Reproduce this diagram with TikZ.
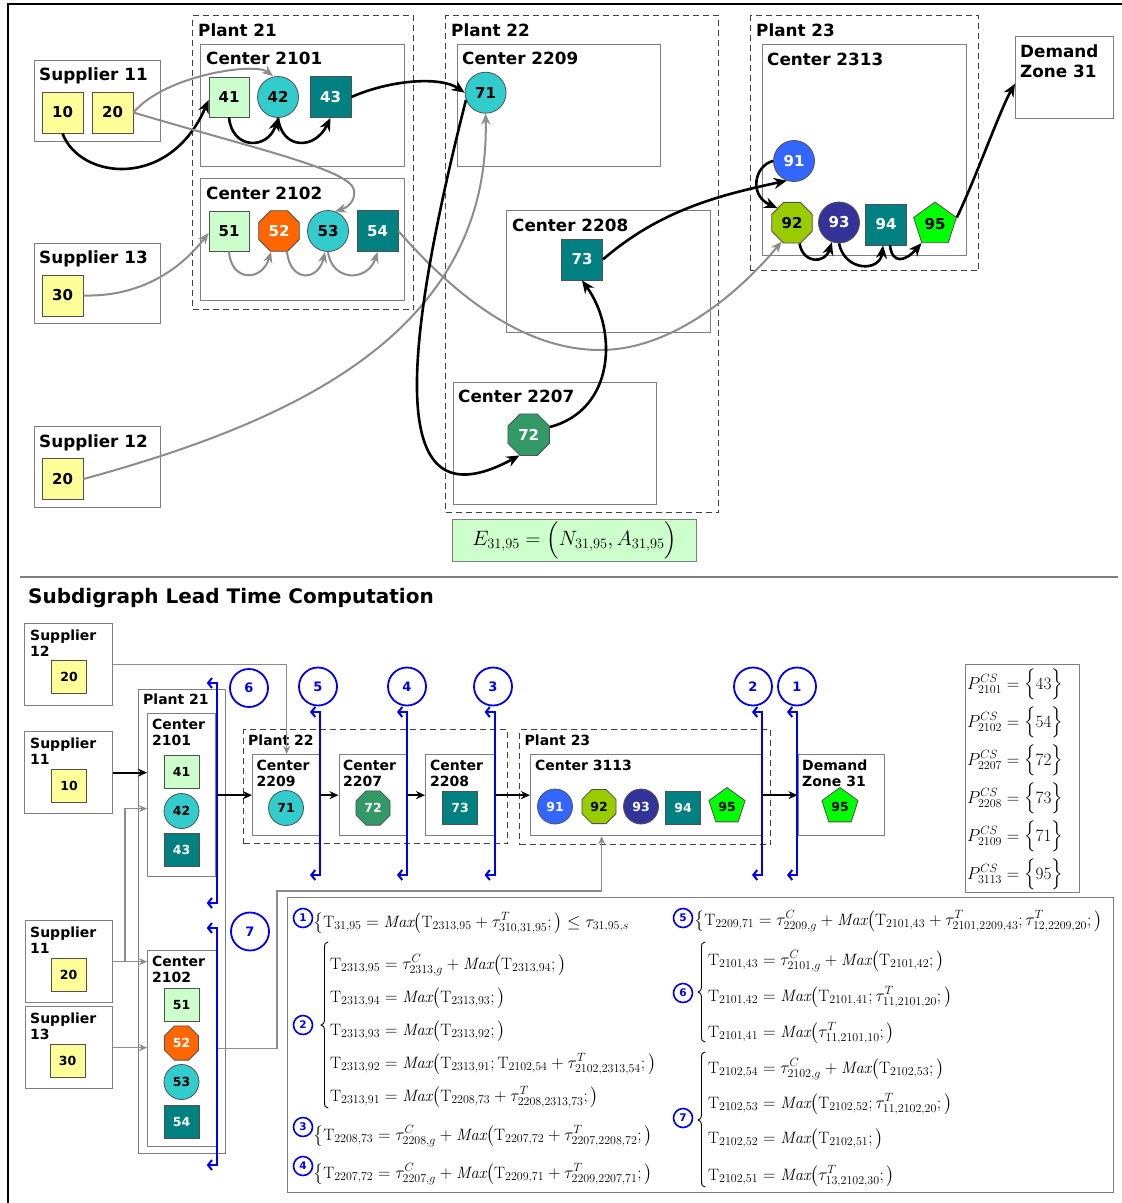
\documentclass[tikz,border=0pt]{standalone}
\usepackage{fontspec}
\usepackage{amsmath}
\usetikzlibrary{shapes.geometric,arrows.meta}
\newfontfamily\dvs{DejaVu Sans}
\newcommand{\LTt}{\mathrm{T}}
\newcommand{\LTmax}{\mathit{Max}}
% left curly brace drawn as a path: x, top y, middle y, bottom y
\newcommand{\LTbrace}[4]{%
  \draw[line width=0.9pt, line cap=round, line join=round]
    (#1+7,#2) .. controls (#1+4,#2) and (#1+3.5,#2+2) .. (#1+3.5,#2+7)
    -- (#1+3.5,#3-6) .. controls (#1+3.5,#3-2) and (#1+2,#3) .. (#1,#3)
    .. controls (#1+2,#3) and (#1+3.5,#3+2) .. (#1+3.5,#3+6)
    -- (#1+3.5,#4-7) .. controls (#1+3.5,#4-2) and (#1+4,#4) .. (#1+7,#4);}

\definecolor{boxgray}{HTML}{7F7F7F}
\definecolor{nodeline}{HTML}{505050}
\definecolor{supyellow}{HTML}{FFFF99}
\definecolor{palegreen}{HTML}{CCFFCC}
\definecolor{turq}{HTML}{33CCCC}
\definecolor{darkteal}{HTML}{008080}
\definecolor{orangeoct}{HTML}{FF6600}
\definecolor{seagreen}{HTML}{339966}
\definecolor{brightblue}{HTML}{3366FF}
\definecolor{olivegreen}{HTML}{99CC00}
\definecolor{navyblue}{HTML}{333399}
\definecolor{limegreen}{HTML}{00FF00}
\definecolor{linkgray}{HTML}{8C8C8C}
\definecolor{cutblue}{HTML}{0000EE}

\tikzset{
  topfont/.style={font=\dvs\bfseries\fontsize{16.8}{19}\selectfont},
  botfont/.style={font=\dvs\bfseries\fontsize{14}{16}\selectfont},
  tlbl/.style={anchor=base west, inner sep=0pt, topfont},
  blbl/.style={anchor=base west, inner sep=0pt, botfont},
  cont/.style={draw=boxgray, line width=1.3pt, anchor=north west, inner sep=0pt},
  plant/.style={draw=black!75, line width=1pt, dash pattern=on 6pt off 4pt, anchor=north west, inner sep=0pt},
  item/.style={draw=nodeline, line width=0.8pt, inner sep=0pt, text=black},
  topnum/.style={font=\dvs\bfseries\fontsize{15}{15}\selectfont},
  botnum/.style={font=\dvs\bfseries\fontsize{12.5}{12.5}\selectfont},
  sqn/.style={item, rectangle, minimum width=#1, minimum height=#1},
  bsq/.style={item, rectangle, minimum width=35pt, minimum height=33pt, botnum},
  cin/.style={item, circle, minimum size=#1},
  octn/.style={item, regular polygon, regular polygon sides=8, minimum size=#1},
  pentn/.style={item, regular polygon, regular polygon sides=5, minimum size=#1},
  fy/.style={fill=supyellow},
  fa/.style={fill=palegreen},
  fb/.style={fill=turq},
  fc/.style={fill=darkteal, text=white},
  f52/.style={fill=orangeoct, text=white},
  f72/.style={fill=seagreen, text=white},
  f91/.style={fill=brightblue, text=white},
  f92/.style={fill=olivegreen},
  f93/.style={fill=navyblue, text=white},
  f95/.style={fill=limegreen},
  blk/.style={draw=black, line width=2.6pt, -{Stealth[length=13pt,width=11pt]}},
  gry/.style={draw=linkgray, line width=2pt, -{Stealth[length=11pt,width=9pt]}},
  bblk/.style={draw=black, line width=2pt, -{Stealth[length=9pt,width=8pt]}},
  bgry/.style={draw=linkgray, line width=1.6pt, -{Stealth[length=8pt,width=7pt]}},
  cut/.style={draw=cutblue, line width=2pt, {Straight Barb[length=4pt,width=10pt]}-{Straight Barb[length=4pt,width=10pt]}},
  cutnum/.style={draw=cutblue, line width=1.8pt, circle, minimum size=38pt, inner sep=0pt, text=cutblue, font=\dvs\bfseries\fontsize{13}{13}\selectfont},
  eqnum/.style={draw=cutblue, line width=1.6pt, circle, minimum size=19pt, inner sep=0pt, text=cutblue, font=\dvs\bfseries\fontsize{10.5}{10.5}\selectfont},
  eqline/.style={anchor=base west, inner sep=0pt, font=\fontsize{16.5}{19}\selectfont},
  pline/.style={anchor=base west, inner sep=0pt, font=\fontsize{18.5}{22}\selectfont},
}

\begin{document}
\begin{tikzpicture}[x=1pt, y=-1pt]
\useasboundingbox (0,0) rectangle (1122,1203);
\fill[white] (0,0) rectangle (1122,1203);

% outer frame
\draw[line width=2.5pt] (8,1203) -- (8,4) -- (1122,4);

% ================= network digraph =================
% suppliers
\node[cont, minimum width=126pt, minimum height=81pt] (sup11) at (34,60) {};
\node[tlbl] (sup11t) at (39,80) {Supplier 11};
\node[sqn=41pt, fy, topnum] (a10) at (62.5,112.5) {10};
\node[sqn=41pt, fy, topnum] (a20) at (112.5,112.5) {20};

\node[cont, minimum width=126pt, minimum height=80pt] (sup13) at (34,243) {};
\node[tlbl] (sup13t) at (39,263) {Supplier 13};
\node[sqn=41pt, fy, topnum] (a30) at (62.5,295.5) {30};

\node[cont, minimum width=126pt, minimum height=81pt] (sup12) at (34,426) {};
\node[tlbl] (sup12t) at (39,447) {Supplier 12};
\node[sqn=41pt, fy, topnum] (b20) at (62.5,479) {20};

% plant 21
\node[plant, minimum width=221pt, minimum height=294pt] (p21) at (192,15) {};
\node[tlbl] (p21t) at (198,36) {Plant 21};
\node[cont, minimum width=204pt, minimum height=122pt] (c2101) at (200,44) {};
\node[tlbl] (c2101t) at (206,64) {Center 2101};
\node[sqn=40pt, fa, topnum] (n41) at (229,97) {41};
\node[cin=41pt, fb, topnum] (n42) at (278,97) {42};
\node[sqn=41pt, fc, topnum] (n43) at (330.5,97) {43};
\node[cont, minimum width=204pt, minimum height=122pt] (c2102) at (200,178) {};
\node[tlbl] (c2102t) at (206,199) {Center 2102};
\node[sqn=40pt, fa, topnum] (n51) at (229,231) {51};
\node[octn=44pt, f52, topnum] (n52) at (279,231) {52};
\node[cin=41pt, fb, topnum] (n53) at (328,231) {53};
\node[sqn=41pt, fc, topnum] (n54) at (377.5,231) {54};

% plant 22
\node[plant, minimum width=273pt, minimum height=497pt] (p22) at (445,15) {};
\node[tlbl] (p22t) at (451,36) {Plant 22};
\node[cont, minimum width=203pt, minimum height=122pt] (c2209) at (457,44) {};
\node[tlbl] (c2209t) at (462,64) {Center 2209};
\node[cin=41pt, fb, topnum] (n71) at (485.6,92.7) {71};
\node[cont, minimum width=204pt, minimum height=122pt] (c2208) at (506,210) {};
\node[tlbl] (c2208t) at (512,231) {Center 2208};
\node[sqn=41pt, fc, topnum] (n73) at (582,259.5) {73};
\node[cont, minimum width=203pt, minimum height=122pt] (c2207) at (453,382) {};
\node[tlbl] (c2207t) at (458,402) {Center 2207};
\node[octn=45pt, f72, topnum] (n72) at (528.7,434.7) {72};

% plant 23
\node[plant, minimum width=228pt, minimum height=255pt] (p23) at (750,15) {};
\node[tlbl] (p23t) at (756,36) {Plant 23};
\node[cont, minimum width=204pt, minimum height=211pt] (c2313) at (762,44) {};
\node[tlbl] (c2313t) at (767,65) {Center 2313};
\node[cin=41pt, f91, topnum] (n91) at (794,161) {91};
\node[octn=44pt, f92, topnum] (n92) at (792,222.7) {92};
\node[cin=41pt, f93, topnum] (n93) at (839,222.5) {93};
\node[sqn=41pt, fc, topnum] (n94) at (886,224.5) {94};
\node[pentn=45pt, f95, topnum] (n95) at (935,224.5) {95};

% demand zone
\node[cont, minimum width=98pt, minimum height=82pt] (dz) at (1015,36) {};
\node[tlbl] (dzt1) at (1020,57) {Demand};
\node[tlbl] (dzt2) at (1020,77) {Zone 31};

% subdigraph tuple
\node[cont, fill=palegreen, minimum width=244pt, minimum height=42pt, font=\fontsize{20}{28}\selectfont] (etuple) at (452,519)
  {$E_{31,95}=\Bigl(N_{31,95},A_{31,95}\Bigr)$};

% arcs inside and between centers
\draw[blk] (a10.south) .. controls (80,180) and (170,190) .. ([yshift=-3pt]n41.west);
\draw[gry] (a20.east) .. controls (165,75) and (255,62) .. ([xshift=-5pt]n42.north);
\draw[gry] (a20.east) .. controls (260,150) and (350,170) .. (354,190) .. controls (356,202) and (346,208) .. (n53.70);
\draw[blk] (n41.south) .. controls (232,150) and (268,150) .. (n42.south);
\draw[blk] (n42.south) .. controls (282,150) and (315,150) .. (n43.south);
\draw[blk] (n43.east) .. controls (390,80) and (440,76) .. (n71.west);
\draw[gry] (n51.south) .. controls (231,282) and (262,282) .. ([xshift=-8pt]n52.south);
\draw[gry] ([xshift=8pt]n52.south) .. controls (290,282) and (318,282) .. ([xshift=-3pt]n53.south);
\draw[gry] (n53.south) .. controls (332,282) and (368,282) .. (n54.south);
\draw[gry] (a30.east) .. controls (140,297) and (180,270) .. ([yshift=-2pt]n51.west);
\draw[gry] (n54.east) .. controls (450,290) and (520,350) .. (600,350) .. controls (680,350) and (750,280) .. (n92.241);
\draw[gry] (b20.east) .. controls (300,420) and (490,330) .. (n71.south);
\draw[blk] (n71.200) .. controls (390,400) and (400,520) .. (n72.246);
\draw[blk] (n72.20) .. controls (615,410) and (618,330) .. (n73.south);
\draw[blk] (n73.east) .. controls (660,210) and (720,195) .. (n91.250);
\draw[blk] (n91.west) .. controls (755,165) and (748,195) .. (n92.135);
\draw[blk] (n92.290) .. controls (803,264) and (825,264) .. (n93.250);
\draw[blk] (n93.south) .. controls (845,272) and (880,272) .. ([xshift=-3pt]n94.south);
\draw[blk] ([xshift=4pt]n94.south) .. controls (892,264) and (905,262) .. (n95.234);
\draw[blk] (n95.18) .. controls (975,180) and (1000,110) .. ([yshift=-6pt]dz.west);

% separator
\draw[draw=boxgray, line width=1.5pt] (20,577) -- (1118,577);

% ================= lead time computation =================
\node[anchor=base west, inner sep=0pt, font=\dvs\bfseries\fontsize{20}{22}\selectfont] (title) at (28,603) {Subdigraph Lead Time Computation};

% suppliers
\node[cont, minimum width=88pt, minimum height=82pt] (s12) at (24,623) {};
\node[blbl] (s12t1) at (30,640) {Supplier};
\node[blbl] (s12t2) at (30,656) {12};
\node[bsq, fy] (s12n) at (69,677) {20};

\node[cont, minimum width=88pt, minimum height=82pt] (s11a) at (24,731) {};
\node[blbl] (s11at1) at (30,748) {Supplier};
\node[blbl] (s11at2) at (30,764) {11};
\node[bsq, fy] (s11an) at (69,786) {10};

\node[cont, minimum width=87pt, minimum height=82pt] (s11b) at (25,920) {};
\node[blbl] (s11bt1) at (30,937) {Supplier};
\node[blbl] (s11bt2) at (30,953) {11};
\node[bsq, fy] (s11bn) at (68.5,975) {20};

\node[cont, minimum width=87pt, minimum height=82pt] (s13) at (25,1006) {};
\node[blbl] (s13t1) at (30,1023) {Supplier};
\node[blbl] (s13t2) at (30,1039) {13};
\node[bsq, fy] (s13n) at (67.5,1061) {30};

% plant 21
\node[cont, minimum width=87pt, minimum height=464pt] (q21) at (138,689) {};
\node[blbl] (q21t) at (143,704) {Plant 21};
\node[cont, minimum width=68pt, minimum height=163pt] (d2101) at (147,713) {};
\node[blbl] (d2101t1) at (152,729) {Center};
\node[blbl] (d2101t2) at (152,745) {2101};
\node[bsq, fa] (m41) at (181.5,772) {41};
\node[cin=35pt, fb, botnum] (m42) at (181.5,811) {42};
\node[bsq, fc] (m43) at (181.5,849.5) {43};
\node[cont, minimum width=69pt, minimum height=196pt] (d2102) at (147,950) {};
\node[blbl] (d2102t1) at (152,966) {Center};
\node[blbl] (d2102t2) at (152,982.5) {2102};
\node[bsq, fa] (m51) at (181.5,1005) {51};
\node[octn=37pt, f52, botnum] (m52) at (181.5,1043) {52};
\node[cin=35pt, fb, botnum] (m53) at (181.5,1082) {53};
\node[bsq, fc] (m54) at (181.5,1122) {54};

% plant 22
\node[plant, minimum width=264pt, minimum height=114pt] (q22) at (243,729) {};
\node[blbl] (q22t) at (248,745) {Plant 22};
\node[cont, minimum width=68pt, minimum height=81pt] (d2209) at (252,754) {};
\node[blbl] (d2209t1) at (256.5,770) {Center};
\node[blbl] (d2209t2) at (256.5,786) {2209};
\node[cin=35pt, fb, botnum] (m71) at (286,808) {71};
\node[cont, minimum width=68.5pt, minimum height=81pt] (d2207) at (338.5,754) {};
\node[blbl] (d2207t1) at (343,770) {Center};
\node[blbl] (d2207t2) at (343,786) {2207};
\node[octn=37pt, f72, botnum] (m72) at (373,808) {72};
\node[cont, minimum width=69.5pt, minimum height=81pt] (d2208) at (425,754) {};
\node[blbl] (d2208t1) at (430,770) {Center};
\node[blbl] (d2208t2) at (430,786) {2208};
\node[bsq, fc] (m73) at (460,808) {73};

% plant 23
\node[plant, minimum width=251pt, minimum height=115pt] (q23) at (519,729) {};
\node[blbl] (q23t) at (524.5,745) {Plant 23};
\node[cont, minimum width=232pt, minimum height=81pt] (d3113) at (530,754) {};
\node[blbl] (d3113t) at (535,770) {Center 3113};
\node[cin=35pt, f91, botnum] (m91) at (555,806.5) {91};
\node[octn=37pt, f92, botnum] (m92) at (599,806.5) {92};
\node[cin=35pt, f93, botnum] (m93) at (641,806.5) {93};
\node[bsq, fc] (m94) at (683,808) {94};
\node[pentn=38pt, f95, botnum] (m95) at (727,806.5) {95};

% demand zone
\node[cont, minimum width=86.5pt, minimum height=81pt] (dz2) at (797.5,754) {};
\node[blbl] (dz2t1) at (802,770) {Demand};
\node[blbl] (dz2t2) at (802,786.5) {Zone 31};
\node[pentn=38pt, f95, botnum] (m95z) at (840,806.5) {95};

% aggregated arcs
\draw[bblk] (s11a.east) -- (s11a.east -| d2101.west);
\coordinate (jn) at (125,961);
\draw[bgry] (s11b.east) -- (s11b.east -| d2102.west);
\draw[bgry] (jn) |- ([yshift=-13.5pt]d2101.west);
\draw[bgry] (s13.east) -- (s13.east -| d2102.west);
\draw[bgry] (s12.east) -| (d2209.north);
\coordinate (jm) at (277,891);
\draw[bgry] (d2102.east) -| (jm) -| ([xshift=-45pt]d3113.south);
\draw[bblk] (d2101.east) -- (d2209.west);
\draw[bblk] (d2209.east) -- (d2207.west);
\draw[bblk] (d2207.east) -- (d2208.west);
\draw[bblk] (d2208.east) -- (d3113.west);
\draw[bblk] (d3113.east) -- (dz2.west);

% computation cuts
\coordinate (k6t) at (216.7,683);  \coordinate (k6b) at (216.7,903);
\coordinate (k7t) at (216.7,928);  \coordinate (k7b) at (216.7,1165);
\coordinate (k5t) at (320,712);    \coordinate (k5b) at (320,875);
\coordinate (k4t) at (407,712);    \coordinate (k4b) at (407,875);
\coordinate (k3t) at (494.6,712);  \coordinate (k3b) at (494.6,875);
\coordinate (k2t) at (762,712);    \coordinate (k2b) at (762,875);
\coordinate (k1t) at (797,712);    \coordinate (k1b) at (797,875);
\foreach \k in {1,...,7}{
  \draw[cut] ([xshift=-10pt]k\k t) -- (k\k t) -- (k\k b) -- ([xshift=-10pt]k\k b);
}
\node[cutnum] (cn6) at (249,688) {6};
\node[cutnum] (cn5) at (318,686.5) {5};
\node[cutnum] (cn4) at (407,686.5) {4};
\node[cutnum] (cn3) at (493,686.5) {3};
\node[cutnum] (cn2) at (753,686.5) {2};
\node[cutnum] (cn1) at (797,686.5) {1};
\node[cutnum] (cn7) at (250,931.5) {7};

% critical stages
\node[cont, minimum width=114pt, minimum height=228pt] (pbox) at (965,664) {};
\node[pline] (pl1) at (967,689) {$P^{CS}_{2101}=\Bigl\{43\Bigr\}$};
\node[pline] (pl2) at (967,727) {$P^{CS}_{2102}=\Bigl\{54\Bigr\}$};
\node[pline] (pl3) at (967,765) {$P^{CS}_{2207}=\Bigl\{72\Bigr\}$};
\node[pline] (pl4) at (967,803) {$P^{CS}_{2208}=\Bigl\{73\Bigr\}$};
\node[pline] (pl5) at (967,841) {$P^{CS}_{2109}=\Bigl\{71\Bigr\}$};
\node[pline] (pl6) at (967,879) {$P^{CS}_{3113}=\Bigl\{95\Bigr\}$};

% lead time equations
\node[cont, minimum width=826pt, minimum height=295pt] (eqbox) at (287,897) {};

\node[eqnum] (e1) at (303,918) {1};
\node[eqline] (eq1) at (313,927) {$\bigl\{\LTt_{31,95}=\LTmax\bigl(\LTt_{2313,95}+\tau^{T}_{310,31,95};\bigr)\leq\tau_{31,95,s}$};

\node[eqnum] (e2) at (303,1025) {2};
\LTbrace{321}{942}{1025}{1108}
\node[eqline] (eq2a) at (330,969) {$\LTt_{2313,95}=\tau^{C}_{2313,g}+\LTmax\bigl(\LTt_{2313,94};\bigr)$};
\node[eqline] (eq2b) at (330,1002) {$\LTt_{2313,94}=\LTmax\bigl(\LTt_{2313,93};\bigr)$};
\node[eqline] (eq2c) at (330,1035) {$\LTt_{2313,93}=\LTmax\bigl(\LTt_{2313,92};\bigr)$};
\node[eqline] (eq2d) at (330,1068) {$\LTt_{2313,92}=\LTmax\bigl(\LTt_{2313,91};\LTt_{2102,54}+\tau^{T}_{2102,2313,54};\bigr)$};
\node[eqline] (eq2e) at (330,1101) {$\LTt_{2313,91}=\LTmax\bigl(\LTt_{2208,73}+\tau^{T}_{2208,2313,73};\bigr)$};

\node[eqnum] (e3) at (303,1127) {3};
\node[eqline] (eq3) at (313,1140) {$\bigl\{\LTt_{2208,73}=\tau^{C}_{2208,g}+\LTmax\bigl(\LTt_{2207,72}+\tau^{T}_{2207,2208,72};\bigr)$};

\node[eqnum] (e4) at (303,1166) {4};
\node[eqline] (eq4) at (313,1178) {$\bigl\{\LTt_{2207,72}=\tau^{C}_{2207,g}+\LTmax\bigl(\LTt_{2209,71}+\tau^{T}_{2209,2207,71};\bigr)$};

\node[eqnum] (e5) at (683,918) {5};
\node[eqline] (eq5) at (694,925) {$\bigl\{\LTt_{2209,71}=\tau^{C}_{2209,g}+\LTmax\bigl(\LTt_{2101,43}+\tau^{T}_{2101,2209,43};\tau^{T}_{12,2209,20};\bigr)$};

\node[eqnum] (e6) at (683,993) {6};
\LTbrace{698}{942}{992}{1042}
\node[eqline] (eq6a) at (708,965) {$\LTt_{2101,43}=\tau^{C}_{2101,g}+\LTmax\bigl(\LTt_{2101,42};\bigr)$};
\node[eqline] (eq6b) at (708,1001) {$\LTt_{2101,42}=\LTmax\bigl(\LTt_{2101,41};\tau^{T}_{11,2101,20};\bigr)$};
\node[eqline] (eq6c) at (708,1037) {$\LTt_{2101,41}=\LTmax\bigl(\tau^{T}_{11,2101,10};\bigr)$};

\node[eqnum] (e7) at (683,1118) {7};
\LTbrace{698}{1052}{1120}{1187}
\node[eqline] (eq7a) at (708,1073) {$\LTt_{2102,54}=\tau^{C}_{2102,g}+\LTmax\bigl(\LTt_{2102,53};\bigr)$};
\node[eqline] (eq7b) at (708,1108) {$\LTt_{2102,53}=\LTmax\bigl(\LTt_{2102,52};\tau^{T}_{11,2102,20};\bigr)$};
\node[eqline] (eq7c) at (708,1143) {$\LTt_{2102,52}=\LTmax\bigl(\LTt_{2102,51};\bigr)$};
\node[eqline] (eq7d) at (708,1180) {$\LTt_{2102,51}=\LTmax\bigl(\tau^{T}_{13,2102,30};\bigr)$};

\end{tikzpicture}
\end{document}
